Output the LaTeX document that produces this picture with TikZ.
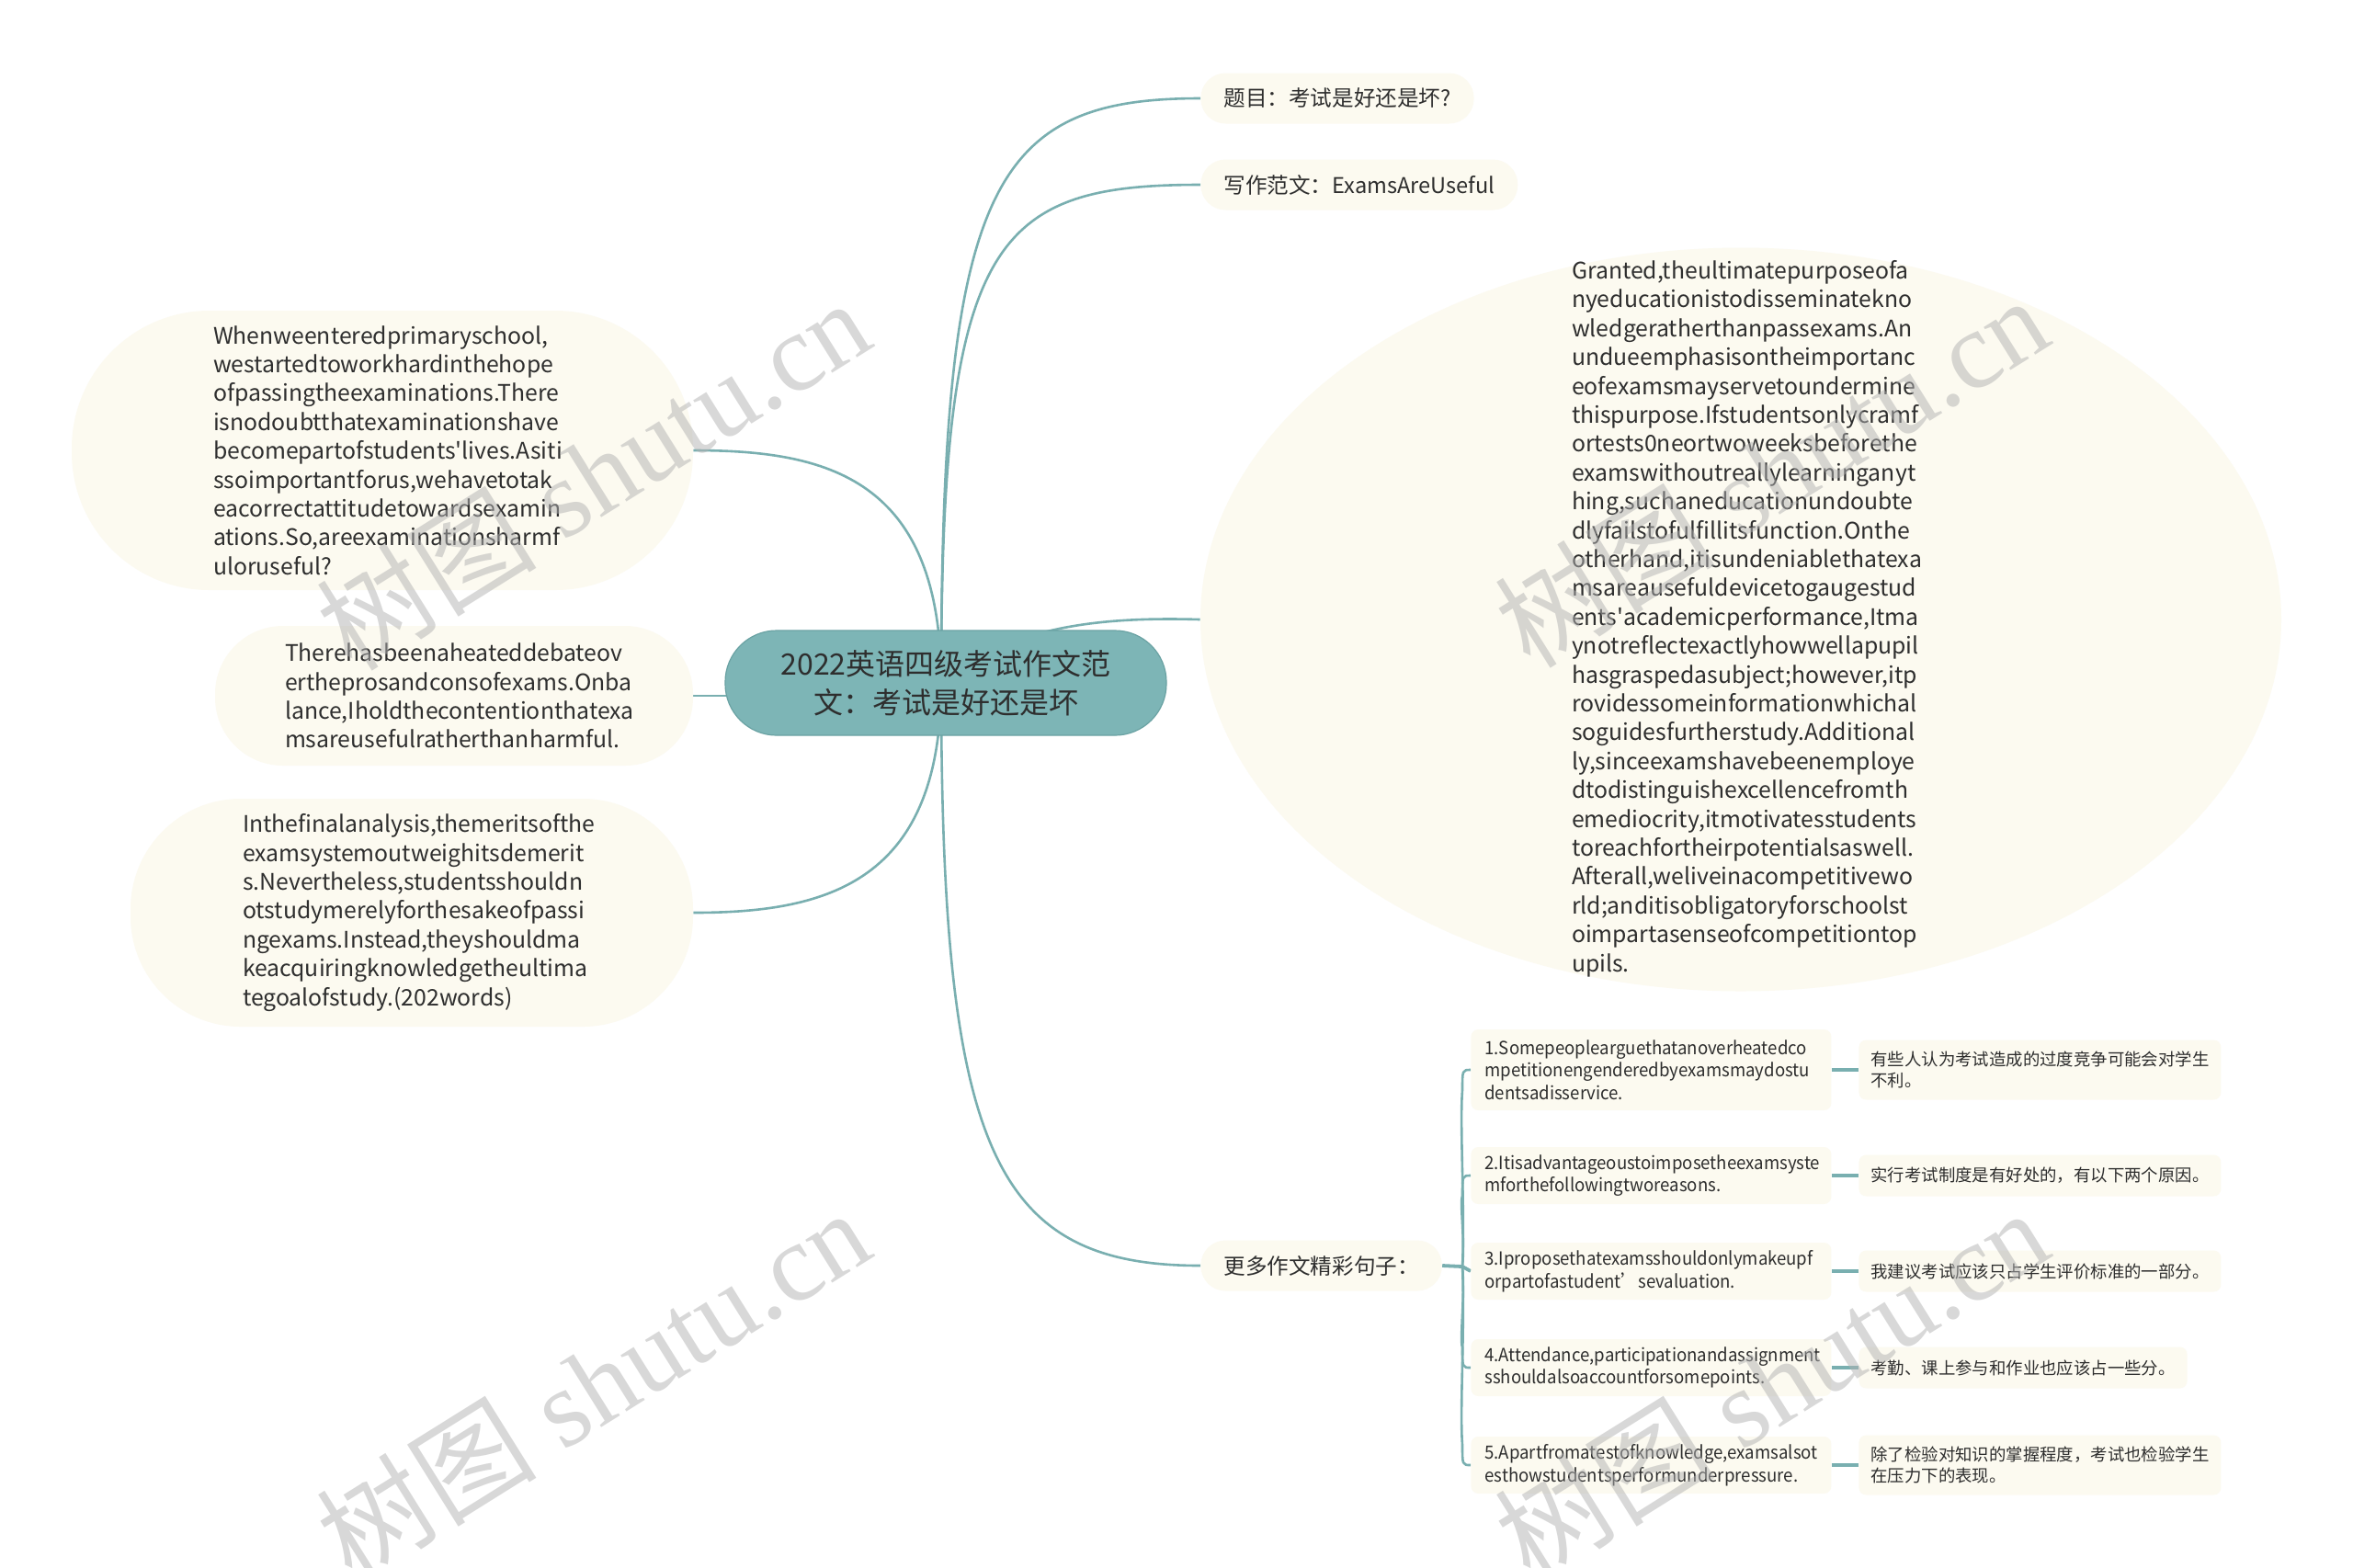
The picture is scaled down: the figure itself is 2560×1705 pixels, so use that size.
\documentclass[tikz,border=0pt]{standalone}
\usepackage{fontspec}
\newfontfamily\nsc{Noto Sans CJK SC}
\newfontfamily\nscn{Noto Sans CJK SC}[FakeStretch=0.94]
\newfontfamily\wmserif{Liberation Serif}
\usetikzlibrary{shapes.geometric,backgrounds,calc}
\definecolor{lineC}{HTML}{79AFB0}
\definecolor{creamC}{HTML}{FCFAF0}
\definecolor{cenC}{HTML}{7DB5B6}
\definecolor{cenD}{HTML}{6AA2A3}
\definecolor{txtC}{HTML}{2E2E2E}
\begin{document}
\begin{tikzpicture}[x=0.5pt,y=-0.5pt,
  conn/.style={draw=lineC, line width=1.3pt},
  stub/.style={draw=lineC, line width=1.9pt},
  cream/.style={fill=creamC, draw=none},
  central/.style={fill=cenC, draw=cenD, line width=0.6pt, rounded corners=28pt,
    minimum width=240pt, minimum height=57pt, align=center, text=txtC,
    font=\nsc\fontsize{16}{21}\selectfont},
  pill/.style={cream, rounded corners=13.5pt, minimum height=27.5pt, inner xsep=12.5pt,
    text=txtC, font=\nsc\fontsize{11.8}{14}\selectfont},
  body/.style={cream, text=txtC, font=\nsc\fontsize{12.4}{15.7}\selectfont, align=left,
    text width=184pt, inner sep=0pt},
  kid/.style={cream, rounded corners=4pt, text=txtC, font=\nscn\fontsize{9.9}{12.25}\selectfont,
    align=left, text width=181pt, minimum width=196pt, inner sep=0pt, minimum height=31pt},
  zh/.style={cream, rounded corners=4pt, text=txtC, font=\nsc\fontsize{9.2}{11.5}\selectfont,
    align=left, inner xsep=6.5pt, inner ysep=0pt, minimum height=22.5pt},
  wm/.style={text=gray!60, text opacity=0.5, rotate=32, font=\fontsize{60}{64}\selectfont}
]
\useasboundingbox (0,0) rectangle (2560,1705);

% central
\node[central] (c) at (1029,743) {2022英语四级考试作文范\\文：考试是好还是坏};
\coordinate (hub) at (1024,743);

% top
\node[pill, anchor=west] (t1) at (1306,107) {题目：考试是好还是坏?};
\node[pill, anchor=west] (t2) at (1306,201) {写作范文：ExamsAreUseful};

% big ellipse
\node[ellipse, cream, minimum width=588pt, minimum height=404.5pt, inner sep=0pt] (E) at (1894,674) {};
\node[body, fill=none] (Et) at (1894,673) {Granted,theultimatepurposeofa\\nyeducationistodisseminatekno\\wledgeratherthanpassexams.An\\undueemphasisontheimportanc\\eofexamsmayservetoundermine\\thispurpose.Ifstudentsonlycramf\\ortests0neortwoweeksbeforethe\\examswithoutreallylearninganyt\\hing,suchaneducationundoubte\\dlyfailstofulfillitsfunction.Onthe\\otherhand,itisundeniablethatexa\\msareausefuldevicetogaugestud\\ents'academicperformance,Itma\\ynotreflectexactlyhowwellapupil\\hasgraspedasubject;however,itp\\rovidessomeinformationwhichal\\soguidesfurtherstudy.Additional\\ly,sinceexamshavebeenemploye\\dtodistinguishexcellencefromth\\emediocrity,itmotivatesstudents\\toreachfortheirpotentialsaswell.\\Afterall,weliveinacompetitivewo\\rld;anditisobligatoryforschoolst\\oimpartasenseofcompetitiontop\\upils.};

% left nodes
\node[body, rounded corners=75pt, minimum width=338pt, minimum height=152pt] (A) at (416,490) {Whenweenteredprimaryschool,\\westartedtoworkhardinthehope\\ofpassingtheexaminations.There\\isnodoubtthatexaminationshave\\becomepartofstudents'lives.Asiti\\ssoimportantforus,wehavetotak\\eacorrectattitudetowardsexamin\\ations.So,areexaminationsharmf\\uloruseful?};
\node[body, rounded corners=37pt, minimum width=260pt, minimum height=76pt] (B) at (494,757) {Therehasbeenaheateddebateov\\ertheprosandconsofexams.Onba\\lance,Iholdthecontentionthatexa\\msareusefulratherthanharmful.};
\node[body, rounded corners=60pt, minimum width=306pt, minimum height=124pt] (C) at (448,993) {Inthefinalanalysis,themeritsofthe\\examsystemoutweighitsdemerit\\s.Nevertheless,studentsshouldn\\otstudymerelyforthesakeofpassi\\ngexams.Instead,theyshouldma\\keacquiringknowledgetheultima\\tegoalofstudy.(202words)};

% more sentences
\node[pill, anchor=west] (more) at (1306,1377) {更多作文精彩句子：};
\coordinate (j) at (1591,1378);

\node[kid, anchor=west, minimum height=44pt] (k1) at (1600,1164) {1.Somepeoplearguethatanoverheatedco\\mpetitionengenderedbyexamsmaydostu\\dentsadisservice.};
\node[kid, anchor=west] (k2) at (1600,1279) {2.Itisadvantageoustoimposetheexamsyste\\mforthefollowingtworeasons.};
\node[kid, anchor=west] (k3) at (1600,1383) {3.Iproposethatexamsshouldonlymakeupf\\orpartofastudent’sevaluation.};
\node[kid, anchor=west] (k4) at (1600,1488) {4.Attendance,participationandassignment\\sshouldalsoaccountforsomepoints.};
\node[kid, anchor=west] (k5) at (1600,1594) {5.Apartfromatestofknowledge,examsalsot\\esthowstudentsperformunderpressure.};

\node[zh, anchor=west, minimum height=32.5pt] (z1) at (2022,1164) {有些人认为考试造成的过度竞争可能会对学生\\不利。};
\node[zh, anchor=west] (z2) at (2022,1279) {实行考试制度是有好处的，有以下两个原因。};
\node[zh, anchor=west] (z3) at (2022,1383) {我建议考试应该只占学生评价标准的一部分。};
\node[zh, anchor=west] (z4) at (2022,1488) {考勤、课上参与和作业也应该占一些分。};
\node[zh, anchor=west, minimum height=32.5pt] (z5) at (2022,1594) {除了检验对知识的掌握程度，考试也检验学生\\在压力下的表现。};

\begin{scope}[on background layer]
\fill[white] (0,0) rectangle (2560,1705);
\draw[conn] (hub) .. controls (1024,200) and (1080,107) .. (t1.west);
\draw[conn] (hub) .. controls (1024,260) and (1080,201) .. (t2.west);
\draw[conn] (hub) .. controls (1100,680) and (1200,671) .. (E.west);
\draw[conn] (hub) .. controls (1024,1250) and (1080,1377) .. (more.west);
\draw[conn] (hub) .. controls (1024,520) and (900,490) .. (A.east);
\draw[conn] (B.east) -- (B.east -| hub);
\draw[conn] (hub) .. controls (1024,960) and (900,993) .. (C.east);
\draw[stub] (more.east) -- (j);
\draw[conn] (j) .. controls ($(j)+(3,-60)$) and ($(j |- k1.west)+(-3,60)$) .. ($(j |- k1.west)+(0,22)$) .. controls (j |- k1.west) .. (k1.west);
\draw[conn] (j) .. controls ($(j)+(3,-30)$) and ($(j |- k2.west)+(-3,30)$) .. ($(j |- k2.west)+(0,22)$) .. controls (j |- k2.west) .. (k2.west);
\draw[stub] (j) -- (k3.west);
\draw[conn] (j) .. controls ($(j)+(3,30)$) and ($(j |- k4.west)+(-3,-30)$) .. ($(j |- k4.west)+(0,-22)$) .. controls (j |- k4.west) .. (k4.west);
\draw[conn] (j) .. controls ($(j)+(3,60)$) and ($(j |- k5.west)+(-3,-60)$) .. ($(j |- k5.west)+(0,-22)$) .. controls (j |- k5.west) .. (k5.west);
\draw[stub] (k1.east) -- (z1.west);
\draw[stub] (k2.east) -- (z2.west);
\draw[stub] (k3.east) -- (z3.west);
\draw[stub] (k4.east) -- (z4.west);
\draw[stub] (k5.east) -- (z5.west);
\end{scope}

% watermarks
\node[wm] (w1) at (645,515) {\nsc 树图\hspace{0.25em}\wmserif shutu.cn};
\node[wm] (w2) at (1927,512) {\nsc 树图\hspace{0.25em}\wmserif shutu.cn};
\node[wm] (w3) at (645,1505) {\nsc 树图\hspace{0.25em}\wmserif shutu.cn};
\node[wm] (w4) at (1927,1505) {\nsc 树图\hspace{0.25em}\wmserif shutu.cn};
\end{tikzpicture}
\end{document}
